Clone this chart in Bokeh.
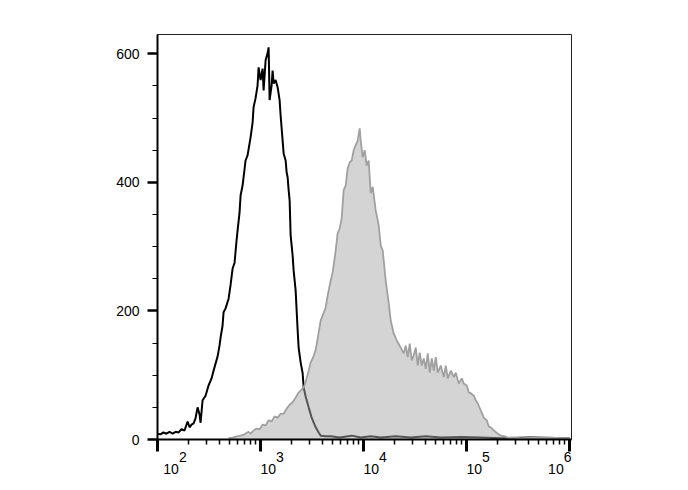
from bokeh.plotting import figure
from bokeh.models import Range1d, FixedTicker
from bokeh.embed import file_html
from bokeh.resources import INLINE

# ---- data (fluorescence intensity, event count) ----
black_x = [100, 107, 114, 122, 131, 140, 150, 160, 171, 183, 196, 205, 214, 224, 234,
           245, 256, 262, 274, 293, 313, 335, 350, 366, 383, 400, 410, 428, 438, 458,
           490, 512, 536, 560, 586, 599, 626, 641, 670, 716, 749, 801, 838, 857, 896,
           937, 958, 1002, 1048, 1072, 1121, 1172, 1199, 1226, 1282, 1311, 1341, 1402,
           1466, 1533, 1568, 1640, 1677, 1754, 1793, 1834, 1876, 1918, 1961, 2051, 2097,
           2193, 2243, 2294, 2346, 2453, 2565, 2624, 2744, 2935, 3138, 3432, 3670, 3838,
           4294, 4800, 5870, 7680, 9390, 11750, 14690, 20560, 28750, 40220, 56260,
           88030, 137700, 215400, 421600, 1000000]
black_y = [9, 8, 11, 9, 12, 9, 12, 11, 16, 14, 28, 19, 23, 25, 33,
           50, 39, 26, 61, 68, 84, 95, 107, 118, 129, 146, 159, 177, 198, 204,
           219, 240, 266, 275, 310, 325, 353, 380, 395, 434, 442, 470, 493, 517, 531,
           551, 579, 559, 577, 543, 590, 601, 610, 528, 551, 574, 554, 559,
           548, 528, 504, 465, 445, 434, 416, 408, 388, 372, 318, 286, 263,
           232, 201, 170, 143, 120, 103, 81, 67, 50, 34, 19, 11, 6,
           5, 5, 3, 6, 3, 5, 3, 5, 3, 5, 3,
           4, 3, 2, 3, 2]

gray_x = [490, 536, 586, 641, 700, 766, 801, 857, 916, 980, 1048, 1121, 1199, 1282,
          1371, 1466, 1568, 1677, 1793, 1918, 2051, 2193, 2346, 2453, 2623, 2744, 2934,
          3069, 3209, 3431, 3589, 3838, 4013, 4292, 4489, 4800, 5020, 5368, 5614, 5871,
          6140, 6421, 6715, 7022, 7344, 7680, 8031, 8399, 8783, 9184, 9393, 9822, 10270,
          10740, 11230, 11750, 12290, 13140, 13740, 14050, 14690, 15370, 16430, 17580,
          18380, 19660, 21020, 22990, 24590, 25710, 26890, 28120, 29410, 30750, 32160,
          33630, 35170, 36780, 38460, 40220, 42070, 43990, 46000, 48110, 50310, 52610,
          56260, 60170, 62920, 65800, 70370, 75250, 78690, 84160, 90000, 94120, 100600,
          105300, 110100, 117700, 123100, 128800, 137700, 147300, 157500, 164700,
          172300, 184200, 201500, 215400, 235600, 252000, 281800, 337100, 527200, 1000000]
gray_y = [2, 3, 5, 6, 8, 12, 9, 14, 17, 16, 23, 22, 30, 28,
          36, 34, 40, 40, 48, 54, 58, 65, 73, 76, 81, 90, 107,
          120, 126, 139, 157, 185, 193, 205, 224, 247, 260, 294, 321, 328,
          344, 388, 395, 422, 431, 434, 450, 458, 465, 484, 465, 439, 450,
          426, 434, 383, 393, 356, 341, 333, 302, 294, 247, 212,
          185, 165, 154, 143, 134, 146, 128, 149, 123, 131, 143,
          115, 135, 115, 126, 110, 134, 104, 126, 107, 128, 104,
          115, 97, 115, 95, 107, 97, 104, 87, 95, 87, 84,
          73, 72, 68, 61, 56, 45, 34, 30, 20,
          19, 14, 9, 6, 5, 3, 3, 2, 3, 2]

y_ticks = [0, 200, 400, 600]
x_decades = [100, 1000, 10000, 100000, 1000000]
x_base = "10"
x_exponents = ["2", "3", "4", "5", "6"]

# ---- layout / style ----
FONT = "Liberation Sans"
NB = "\u00a0"
pad_left = [9, 6, 6, 6, 0]     # non-breaking spaces, to place each label like the reference
pad_right = [0, 0, 0, 0, 5]

p = figure(width=650, height=488, output_backend="svg", toolbar_location=None,
           x_axis_type="log", min_border_left=157, min_border_right=79,
           min_border_top=34, min_border_bottom=49)
p.x_range = Range1d(100, 10 ** 6.0194)
p.y_range = Range1d(0, 630)
p.grid.visible = False
p.outline_line_color = "#222222"
p.outline_line_width = 1
p.background_fill_color = "white"
p.border_fill_color = "white"

p.line(black_x, black_y, line_color="black", line_width=2)
p.varea(x=gray_x, y1=[0] * len(gray_x), y2=gray_y, fill_color="#a9a9a9", fill_alpha=0.5)
p.line(gray_x, gray_y, line_color="#a0a0a0", line_width=1.8)

# y axis
ya = p.yaxis[0]
ya.ticker = FixedTicker(ticks=y_ticks, minor_ticks=list(range(0, 631, 50)))
ya.axis_line_width = 2
ya.axis_line_color = "black"
ya.major_tick_out = 10
ya.major_tick_in = 0
ya.major_tick_line_width = 2.5
ya.minor_tick_out = 5
ya.minor_tick_in = 0
ya.minor_tick_line_width = 1.2
ya.major_label_text_font = FONT
ya.major_label_text_font_size = "14px"
ya.major_label_text_color = "black"
ya.major_label_standoff = 8

# x axis
minor = [k * d for d in x_decades[:-1] for k in range(2, 10)]
xa = p.xaxis[0]
xa.ticker = FixedTicker(ticks=x_decades, minor_ticks=minor)
xa.axis_line_width = 2
xa.axis_line_color = "black"
xa.major_tick_out = 12
xa.major_tick_in = 0
xa.major_tick_line_width = 3
xa.minor_tick_out = 5
xa.minor_tick_in = 0
xa.minor_tick_line_width = 1.5
labels = {}
for d, e, pl, pr in zip(x_decades, x_exponents, pad_left, pad_right):
    top = NB * pl + NB * 4 + e + NB * pr
    bottom = NB * pl + x_base + NB * 2 + NB * pr
    labels[d] = top + "\n" + bottom
xa.major_label_overrides = labels
xa.major_label_text_font = FONT
xa.major_label_text_font_size = "14px"
xa.major_label_text_color = "black"
xa.major_label_text_line_height = 0.8
xa.major_label_standoff = -3

open("out.html", "w").write(file_html(p, INLINE))
